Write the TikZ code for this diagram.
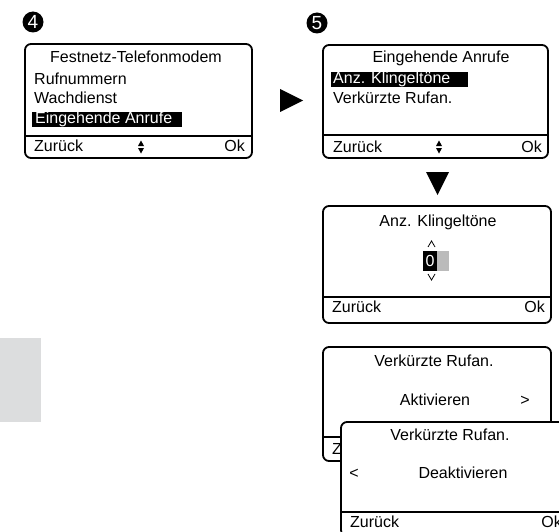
\documentclass[tikz,border=0pt]{standalone}
\usepackage{fontspec}
\setmainfont{Liberation Sans}
\definecolor{sidebar}{HTML}{DCDDDE}
\definecolor{cursor}{HTML}{BBBBBB}
\tikzset{
  screen/.style={draw, line width=1.8pt, rounded corners=6pt, fill=white},
  divider/.style={line width=1.8pt},
  txt/.style={inner sep=0pt, font=\fontsize{16}{18}\selectfont},
  inv/.style={txt, text=white},
  bullet/.style={circle, fill=black, text=white, inner sep=0pt, minimum size=21pt, font=\fontsize{19}{20}\selectfont},
  chevron/.style={line width=0.8pt},
}
\begin{document}
\begin{tikzpicture}[x=1pt,y=-1pt]
\clip (0,0) rectangle (559,532);
\fill[sidebar] (0,338) rectangle (41,422);

% step 4
\node[bullet] (n4) at (33,22) {4};
\draw[screen] (25,44) rectangle (252,158);
\draw[divider] (25,136) -- (252,136);
\node[txt, anchor=base] (t4) at (136,63) {Festnetz-Telefonmodem};
\node[txt, anchor=base west] (r4) at (34,85) {Rufnummern};
\node[txt, anchor=base west] (w4) at (34,103) {Wachdienst};
\fill (32,112) rectangle (182,127.5);
\node[inv, anchor=base west] (e4) at (35,124) {Eingehende Anrufe};
\node[txt, anchor=base west] (z4) at (34,151) {Zurück};
\node[txt, anchor=base east] (o4) at (245,151) {Ok};
\fill (138,146) -- (144,146) -- (141,140.5) -- cycle;
\fill (138,148) -- (144,148) -- (141,153.5) -- cycle;

% arrow to 5
\fill (280,89) -- (280,112) -- (303,100.5) -- cycle;

% step 5
\node[bullet] (n5) at (317,23) {5};
\draw[screen] (323,45) rectangle (548,158);
\draw[divider] (323,135) -- (548,135);
\node[txt, anchor=base] (t5) at (441,63) {Eingehende Anrufe};
\fill (331,72) rectangle (468,87.5);
\node[inv, anchor=base west] (k5) at (333,84) {Anz. Klingeltöne};
\node[txt, anchor=base west] (v5) at (333,103) {Verkürzte Rufan.};
\node[txt, anchor=base west] (z5) at (333,152) {Zurück};
\node[txt, anchor=base east] (o5) at (542,152) {Ok};
\fill (436,146) -- (442,146) -- (439,140.5) -- cycle;
\fill (436,148) -- (442,148) -- (439,153.5) -- cycle;

% arrow down
\fill (426,172) -- (449,172) -- (437.5,195) -- cycle;

% ring count
\draw[screen] (323,206) rectangle (551,323);
\draw[divider] (323,297) -- (551,297);
\node[txt, anchor=base] (tk) at (438,226) {Anz. Klingeltöne};
\draw[chevron] (428,247) -- (431.5,241) -- (435,247);
\fill (423,251) rectangle (437,271);
\fill[cursor] (437,251) rectangle (449,271);
\node[inv, anchor=base] (ck) at (430,266) {0};
\draw[chevron] (428,274) -- (431.5,280) -- (435,274);
\node[txt, anchor=base west] (zk) at (332,312) {Zurück};
\node[txt, anchor=base east] (ok) at (545,312) {Ok};

% short ring, on
\draw[screen] (323,347) rectangle (551,461);
\draw[divider] (323,437) -- (551,437);
\node[txt, anchor=base] (ta) at (434,366) {Verkürzte Rufan.};
\node[txt, anchor=base] (aa) at (435,405) {Aktivieren};
\node[txt, anchor=base] (ga) at (525,405) {>};
\node[txt, anchor=base west] (za) at (332,454) {Zurück};
\node[txt, anchor=base east] (oa) at (545,454) {Ok};

% short ring, off
\draw[screen] (341,422) rectangle (569,536);
\draw[divider] (341,512) -- (569,512);
\node[txt, anchor=base] (td) at (450,440) {Verkürzte Rufan.};
\node[txt, anchor=base] (ld) at (354,478) {<};
\node[txt, anchor=base] (dd) at (463,478) {Deaktivieren};
\node[txt, anchor=base west] (zd) at (350,527) {Zurück};
\node[txt, anchor=base east] (od) at (562,527) {Ok};
\end{tikzpicture}
\end{document}
